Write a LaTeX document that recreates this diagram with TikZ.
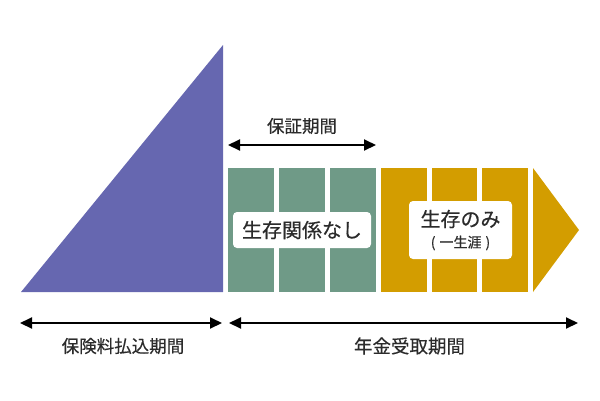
\documentclass[tikz,border=0pt]{standalone}
\usepackage{fontspec}
\setmainfont{Noto Sans CJK JP}[FakeBold=0.4]
\usetikzlibrary{arrows.meta}
\definecolor{purp}{HTML}{6667B0}
\definecolor{grn}{HTML}{6F9A87}
\definecolor{org}{HTML}{D39D00}
\definecolor{txt}{HTML}{2B2B2B}
\tikzset{
  dim/.style={line width=2pt, {Triangle[length=12pt,width=11pt]}-{Triangle[length=12pt,width=11pt]}},
  lbl/.style={text=txt, inner sep=0pt}
}
\begin{document}
\begin{tikzpicture}[x=1pt,y=-1pt]
\useasboundingbox (0,0) rectangle (600,400);
% triangle
\fill[purp] (21,292) -- (223,45) -- (223,292) -- cycle;
% green boxes
\fill[grn] (228,168) rectangle (274,292);
\fill[grn] (279,168) rectangle (325,292);
\fill[grn] (330,168) rectangle (376,292);
% orange boxes
\fill[org] (381,168) rectangle (427,292);
\fill[org] (432,168) rectangle (477,292);
\fill[org] (482,168) rectangle (528,292);
\fill[org] (533,168) -- (579,230) -- (533,292) -- cycle;
% labels in boxes
\fill[white, rounded corners=4pt] (233,212) rectangle (371,248);
\node[lbl, font=\fontsize{20}{20}\selectfont] (g) at (302,230) {生存関係なし};
\fill[white, rounded corners=4pt] (409,201) rectangle (512,259);
\node[lbl, font=\fontsize{20}{20}\selectfont] (o1) at (460.5,219) {生存のみ};
\node[lbl, font=\fontsize{14}{14}\selectfont] (o2) at (460.5,243) {(\hspace{4pt}一生涯\hspace{4pt})};
% arrows
\coordinate (a1) at (228,145);
\coordinate (a2) at (376,145);
\draw[dim] (a1) -- (a2);
\node[lbl, font=\fontsize{17.5}{17.5}\selectfont] (t1) at (302,126) {保証期間};
\coordinate (b1) at (20,323);
\coordinate (b2) at (222,323);
\coordinate (c1) at (229,323);
\coordinate (c2) at (578,323);
\draw[dim] (b1) -- (b2);
\draw[dim] (c1) -- (c2);
\node[lbl, font=\fontsize{17.5}{17.5}\selectfont] (t2) at (123,346) {保険料払込期間};
\node[lbl, font=\fontsize{18.5}{18.5}\selectfont] (t3) at (409.5,346) {年金受取期間};
\end{tikzpicture}
\end{document}
